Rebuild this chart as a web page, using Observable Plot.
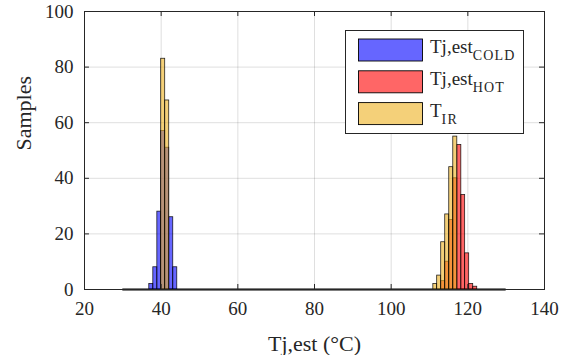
<!DOCTYPE html>
<html>
<head>
<meta charset="utf-8">
<script src="https://cdn.jsdelivr.net/npm/d3@7"></script>
<script src="https://cdn.jsdelivr.net/npm/@observablehq/plot@0.6"></script>
<style>
  html, body { margin: 0; padding: 0; background: #fff; }
  #chart svg { display: block; }
  #chart svg, #chart svg text { font-family: "Liberation Serif", "Times New Roman", serif; }
</style>
</head>
<body>
<div id="chart"></div>
<script>
// ---- data ----
const xTicks = [20, 40, 60, 80, 100, 120, 140];
const yTicks = [0, 20, 40, 60, 80, 100];
const xLabel = "Tj,est (°C)";
const yLabel = "Samples";

// Tj,est COLD (blue)
const coldEdges  = [36.9, 37.95, 39.0, 40.0, 41.05, 42.1, 43.15, 44.2];
const coldCounts = [2, 8, 28, 57, 51, 26, 8];

// Tj,est HOT (red)
const hotEdges  = [113.05, 114.1, 115.15, 116.2, 117.25, 118.3, 119.3, 120.35, 121.4, 122.45];
const hotCounts = [3, 10, 25, 40, 52, 34, 13, 2, 1];

// T IR (yellow), two clusters
const irColdEdges  = [40.0, 41.05, 42.1];
const irColdCounts = [83, 68];
const irHotEdges  = [111.0, 112.0, 113.05, 114.1, 115.15, 116.2, 117.25];
const irHotCounts = [2, 5, 17, 27, 44, 55];

// empty bins along the baseline
const emptyRange = [30, 130];

const seriesNames = ["Tj,est|COLD", "Tj,est|HOT", "T|IR"];
const seriesColors = ["#0000ff", "#ff0000", "#EDB120"];

const FONT = "'Liberation Serif', 'Times New Roman', serif";

function bins(edges, counts, s) {
  return counts.map((c, i) => ({x1: edges[i], x2: edges[i + 1], y: c, s}));
}
const blueData = bins(coldEdges, coldCounts, 0);
const redData = bins(hotEdges, hotCounts, 1);
const yellowData = [...bins(irColdEdges, irColdCounts, 2), ...bins(irHotEdges, irHotCounts, 2)];

const tickLenY = 1.8;  // samples
const tickLenX = 1.3;  // degrees

const barStyle = (c) => ({x1: "x1", x2: "x2", y: "y", fill: c, fillOpacity: 0.6, stroke: "#000", strokeWidth: 0.8, strokeOpacity: 0.85});

const plot = Plot.plot({
  width: 567,
  height: 355,
  marginLeft: 84,
  marginRight: 23,
  marginTop: 11,
  marginBottom: 66,
  style: "font-family: 'Liberation Serif', 'Times New Roman', serif; color: #262626; background: #fff;",
  x: {domain: [20, 140], label: null},
  y: {domain: [0, 100], label: null},
  marks: [
    Plot.gridX(xTicks, {stroke: "#262626", strokeOpacity: 0.15}),
    Plot.gridY(yTicks, {stroke: "#262626", strokeOpacity: 0.15}),
    Plot.ruleY([0], {x1: emptyRange[0], x2: emptyRange[1], stroke: "#000", strokeWidth: 2.2}),
    Plot.rectY(blueData, barStyle(seriesColors[0])),
    Plot.rectY(redData, barStyle(seriesColors[1])),
    Plot.rectY(yellowData, barStyle(seriesColors[2])),
    // inside ticks
    Plot.ruleX(xTicks, {y1: 0, y2: tickLenY, stroke: "#262626"}),
    Plot.ruleX(xTicks, {y1: 100, y2: 100 - tickLenY, stroke: "#262626"}),
    Plot.ruleY(yTicks, {x1: 20, x2: 20 + tickLenX, stroke: "#262626"}),
    Plot.ruleY(yTicks, {x1: 140, x2: 140 - tickLenX, stroke: "#262626"}),
    Plot.frame({stroke: "#262626", strokeWidth: 1}),
    Plot.axisX(xTicks, {tickSize: 0, tickPadding: 12, fontSize: 19, fontFamily: FONT, label: null}),
    Plot.axisY(yTicks, {tickSize: 0, tickPadding: 11, fontSize: 19, fontFamily: FONT, label: null}),
    Plot.text([xLabel], {frameAnchor: "bottom", dy: 54, fontSize: 22, fontFamily: FONT, lineAnchor: "middle"}),
    Plot.text([yLabel], {frameAnchor: "left", dx: -61, rotate: -90, fontSize: 22, fontFamily: FONT, lineAnchor: "middle"})
  ]
});

// ---- legend (inside the axes, upper right) ----
const svg = d3.select(plot);
const lg = svg.append("g").attr("class", "legend");
const box = {x: 345.5, y: 30.5, w: 178, h: 103};
lg.append("rect").attr("x", box.x).attr("y", box.y).attr("width", box.w).attr("height", box.h)
  .attr("fill", "#fff").attr("stroke", "#262626").attr("stroke-width", 1);
seriesNames.forEach((name, i) => {
  const [main, sub] = name.split("|");
  const ry = box.y + 8.5 + i * 31.8;
  lg.append("rect").attr("x", 358.5).attr("y", ry).attr("width", 64).attr("height", 22)
    .attr("fill", seriesColors[i]).attr("fill-opacity", 0.6).attr("stroke", "#000").attr("stroke-width", 0.9);
  const t = lg.append("text").attr("x", 430).attr("y", ry + 14)
    .attr("text-anchor", "start")
    .attr("font-family", FONT)
    .attr("font-size", 19).attr("fill", "#262626");
  t.append("tspan").text(main);
  t.append("tspan").attr("dy", 7).attr("font-size", 14).attr("letter-spacing", 1.2).text(sub);
});

document.getElementById("chart").appendChild(plot);
</script>
</body>
</html>
